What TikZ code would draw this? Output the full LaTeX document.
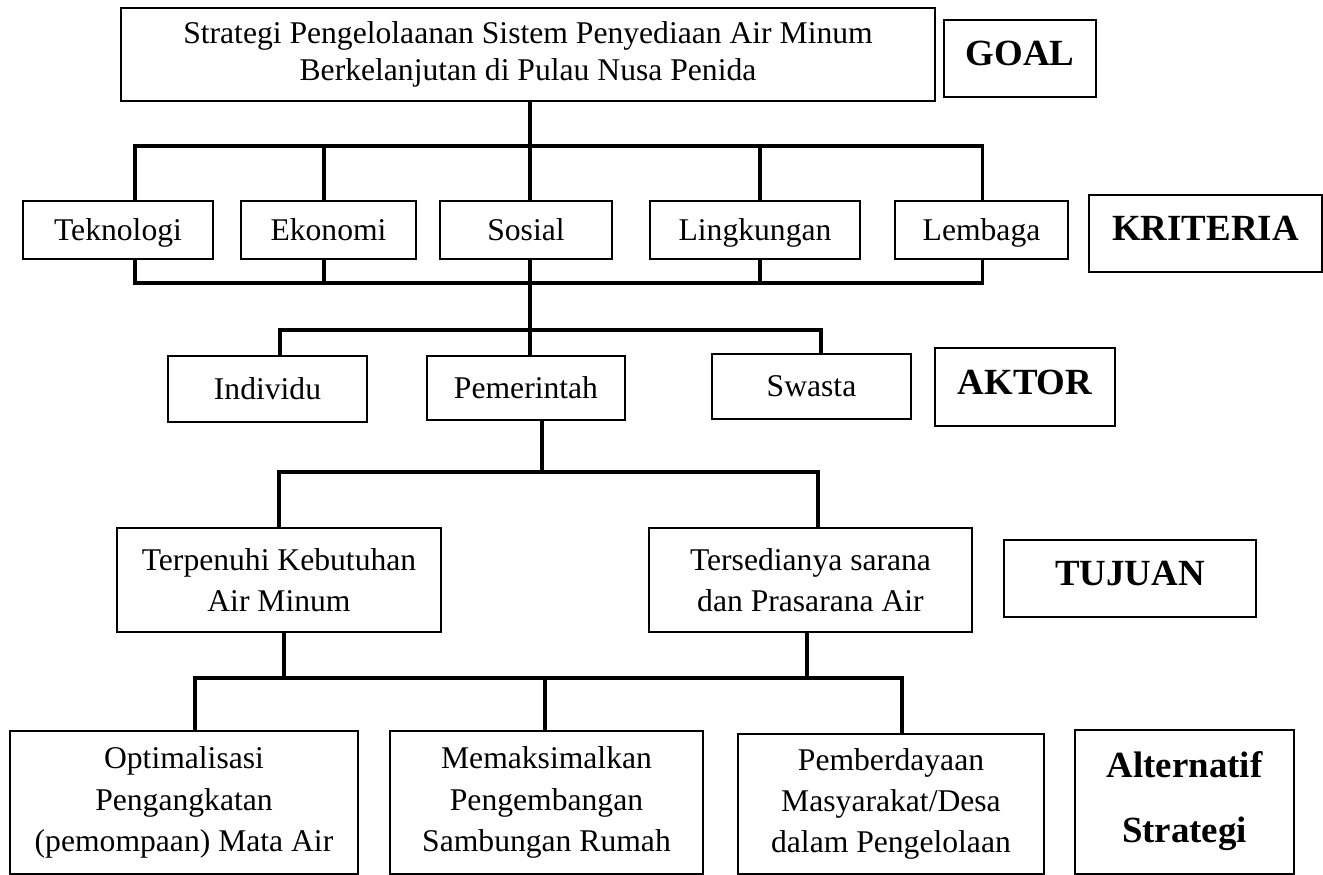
\documentclass[tikz,border=0pt]{standalone}
\usepackage{fontspec}
\setmainfont{Liberation Serif}
\usetikzlibrary{positioning}

\begin{document}
\begin{tikzpicture}[
    x=0.02cm, y=-0.02cm,
    box/.style={rectangle, draw, line width=0.8pt, inner sep=0pt, align=center, font=\fontsize{18}{21}\selectfont},
    single/.style={box, text height=0.55cm, text depth=0.13cm},
    tall/.style={box, font=\fontsize{18}{23.5}\selectfont},
    level/.style={box, text depth=0.2cm, font=\fontsize{21}{37}\selectfont\bfseries},
    link/.style={line width=2.2pt}
]
\useasboundingbox (0,0) rectangle (1323,875);

% Nodes
\node[box, minimum width=16.28cm, minimum height=1.86cm] (goal) at (528,54.5) {Strategi Pengelolaanan Sistem Penyediaan Air Minum\\Berkelanjutan di Pulau Nusa Penida};
\node[level, minimum width=3.04cm, minimum height=1.54cm] (goalLbl) at (1020,58.5) {GOAL};

\node[single, minimum width=3.8cm, minimum height=1.16cm] (teknologi) at (118,230) {Teknologi};
\node[single, minimum width=3.5cm, minimum height=1.16cm] (ekonomi) at (328.5,230) {Ekonomi};
\node[single, minimum width=3.44cm, minimum height=1.16cm] (sosial) at (526,230) {Sosial};
\node[single, minimum width=4.2cm, minimum height=1.16cm] (lingkungan) at (755,230) {Lingkungan};
\node[single, minimum width=3.46cm, minimum height=1.16cm] (lembaga) at (981.5,230) {Lembaga};
\node[level, minimum width=4.66cm, minimum height=1.54cm] (kriteria) at (1205.5,233.5) {KRITERIA};

\node[single, minimum width=3.98cm, minimum height=1.32cm] (individu) at (267.5,389) {Individu};
\node[single, minimum width=3.96cm, minimum height=1.28cm] (pemerintah) at (526,388) {Pemerintah};
\node[single, minimum width=3.98cm, minimum height=1.3cm] (swasta) at (811.5,386.5) {Swasta};
\node[level, minimum width=3.6cm, minimum height=1.56cm] (aktor) at (1025,387) {AKTOR};

\node[tall, minimum width=6.48cm, minimum height=2.08cm] (terpenuhi) at (279,580) {Terpenuhi Kebutuhan\\Air Minum};
\node[tall, minimum width=6.46cm, minimum height=2.08cm] (tersedia) at (810.5,580) {Tersedianya sarana\\dan Prasarana Air};
\node[level, minimum width=5.04cm, minimum height=1.54cm] (tujuan) at (1130,578.5) {TUJUAN};

\node[tall, minimum width=6.96cm, minimum height=2.86cm] (optimal) at (184,802.5) {Optimalisasi\\Pengangkatan\\(pemompaan) Mata Air};
\node[tall, minimum width=6.26cm, minimum height=2.86cm] (maksimal) at (546.5,802.5) {Memaksimalkan\\Pengembangan\\Sambungan Rumah};
\node[tall, minimum width=6.12cm, minimum height=2.8cm] (berdaya) at (891,804) {Pemberdayaan\\Masyarakat/Desa\\dalam Pengelolaan};
\node[level, minimum width=4.38cm, minimum height=2.88cm] (alternatif) at (1184.5,802) {Alternatif\\Strategi};

% Bus points
\coordinate (kTop) at (530,146);
\coordinate (kBot) at (530,283);
\coordinate (aBus) at (530,330);
\coordinate (tBus) at (542,472);
\coordinate (sBus) at (545,678);

% Connections
\draw[link] ([xshift=0.04cm]goal.south) -- (kTop);
\draw[link] ([xshift=0.34cm]teknologi.north) |- (kTop);
\draw[link] ([xshift=-0.09cm]ekonomi.north) |- (kTop);
\draw[link] ([xshift=0.08cm]sosial.north) -- (kTop);
\draw[link] ([xshift=0.1cm]lingkungan.north) |- (kTop);
\draw[link] ([xshift=0.02cm]lembaga.north) |- (kTop);

\draw[link] ([xshift=0.34cm]teknologi.south) |- (kBot);
\draw[link] ([xshift=-0.09cm]ekonomi.south) |- (kBot);
\draw[link] ([xshift=0.08cm]sosial.south) -- (kBot);
\draw[link] ([xshift=0.1cm]lingkungan.south) |- (kBot);
\draw[link] ([xshift=0.02cm]lembaga.south) |- (kBot);

\draw[link] (kBot) -- (aBus);
\draw[link] ([xshift=0.25cm]individu.north) |- (aBus);
\draw[link] ([xshift=0.08cm]pemerintah.north) -- (aBus);
\draw[link] ([xshift=0.19cm]swasta.north) |- (aBus);

\draw[link] ([xshift=0.32cm]pemerintah.south) -- (tBus);
\draw[link] (terpenuhi.north) |- (tBus);
\draw[link] ([xshift=0.15cm]tersedia.north) |- (tBus);

\draw[link] ([xshift=0.1cm]terpenuhi.south) |- (sBus);
\draw[link] ([xshift=-0.07cm]tersedia.south) |- (sBus);
\draw[link] ([xshift=0.22cm]optimal.north) |- (sBus);
\draw[link] ([xshift=-0.03cm]maksimal.north) -- (sBus);
\draw[link] ([xshift=0.22cm]berdaya.north) |- (sBus);

\end{tikzpicture}
\end{document}
